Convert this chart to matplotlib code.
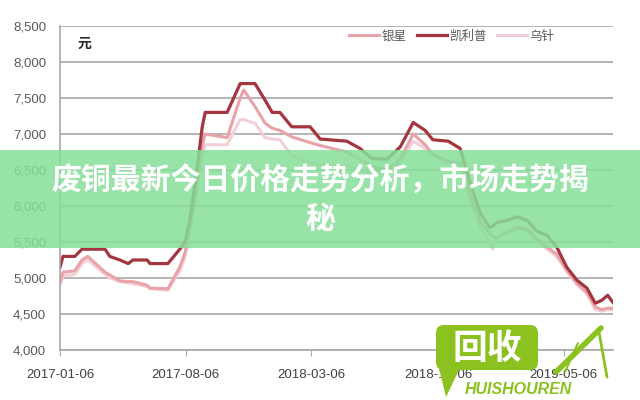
import matplotlib
matplotlib.use('Agg')
import matplotlib.pyplot as plt
import pandas as pd
from matplotlib.patches import Rectangle, FancyBboxPatch, Polygon
from matplotlib.ticker import FuncFormatter

plt.rcParams['font.family'] = ['Liberation Sans', 'Noto Sans CJK SC', 'DejaVu Sans']

# weekly-ish price points (元)
dates = [
    '2017-01-06', '2017-01-11', '2017-01-31', '2017-02-12', '2017-02-22', '2017-03-23',
    '2017-03-31', '2017-04-17', '2017-05-01', '2017-05-09', '2017-06-02', '2017-06-07',
    '2017-07-07', '2017-07-27', '2017-08-05', '2017-08-13', '2017-08-25', '2017-09-03',
    '2017-09-08', '2017-10-15', '2017-11-06', '2017-11-12', '2017-12-01', '2017-12-18',
    '2017-12-30', '2018-01-12', '2018-02-01', '2018-03-04', '2018-03-21', '2018-05-05',
    '2018-05-27', '2018-06-16', '2018-07-12', '2018-08-03', '2018-08-25', '2018-09-14',
    '2018-09-27', '2018-10-23', '2018-11-12', '2018-11-29', '2018-12-16', '2019-01-01',
    '2019-01-06', '2019-01-13', '2019-01-30', '2019-02-16', '2019-03-05', '2019-03-22',
    '2019-04-08', '2019-04-24', '2019-05-11', '2019-05-28', '2019-06-14', '2019-06-28',
    '2019-07-09', '2019-07-19', '2019-07-28',
]
kailipu = [
    5150, 5300, 5300, 5400, 5400, 5400, 5300, 5250, 5200, 5250, 5250, 5200,
    5200, 5400, 5500, 5800, 6500, 7100, 7300, 7300, 7700, 7700, 7700, 7470,
    7300, 7300, 7100, 7100, 6930, 6900, 6800, 6660, 6650, 6820, 7160, 7050,
    6920, 6900, 6800, 6320, 5900, 5700, 5720, 5770, 5800, 5850, 5800, 5650,
    5590, 5430, 5150, 4970, 4860, 4650, 4690, 4760, 4660,
]
yinxing = [
    4950, 5080, 5100, 5250, 5300, 5080, 5040, 4960, 4950, 4950, 4900, 4860,
    4850, 5150, 5350, 5700, 6300, 6850, 7000, 6950, 7500, 7610, 7380, 7150,
    7080, 7050, 6960, 6880, 6840, 6750, 6650, 6550, 6500, 6650, 7000, 6850,
    6720, 6620, 6600, 6150, 5780, 5620, 5580, 5560, 5640, 5700, 5680, 5540,
    5430, 5330, 5110, 4930, 4800, 4600, 4560, 4580, 4580,
]
wuzhen = [
    4900, 5030, 5050, 5200, 5250, 5050, 5000, 4950, 4930, 4920, 4880, 4850,
    4830, 5100, 5300, 5650, 6200, 6700, 6850, 6850, 7200, 7200, 7150, 6950,
    6930, 6920, 6700, 6600, 6580, 6550, 6500, 6450, 6450, 6600, 6900, 6800,
    6700, 6600, 6580, 6100, 5700, 5500, 5400, 5560, 5620, 5680, 5660, 5520,
    5400, 5300, 5090, 4910, 4780, 4560, 4540, 4560, 4560,
]
tick_dates = ['2017-01-06', '2017-08-06', '2018-03-06', '2018-10-06', '2019-05-06']
y_ticks = list(range(4000, 8501, 500))

x = pd.to_datetime(dates)

fig = plt.figure(figsize=(6.4, 4), dpi=100)
ax = fig.add_axes([60 / 640, 50 / 400, 553 / 640, 324 / 400])

l3, = ax.plot(x, wuzhen, color='#f2d0d9', lw=2.2, label='乌针')
l1, = ax.plot(x, yinxing, color='#e9a2a8', lw=2.2, label='银星')
l2, = ax.plot(x, kailipu, color='#a3363f', lw=2.3, label='凯利普')

ax.set_xlim(pd.Timestamp('2017-01-06'), pd.Timestamp('2019-07-28'))
ax.set_ylim(4000, 8500)
ax.set_yticks(y_ticks)
ax.yaxis.set_major_formatter(FuncFormatter(lambda v, p: f'{int(v):,}'))
ax.set_xticks(pd.to_datetime(tick_dates))
ax.set_xticklabels(tick_dates)

ax.grid(axis='y', color='#a8a8a8', lw=1.2)
ax.set_axisbelow(True)
for s in ['top', 'right']:
    ax.spines[s].set_visible(False)
ax.spines['left'].set_color('#a8a8a8')
ax.spines['bottom'].set_color('#a8a8a8')
ax.spines['left'].set_linewidth(1.2)
ax.spines['bottom'].set_linewidth(1.2)
ax.tick_params(axis='y', length=0, pad=10, labelsize=9.5, labelcolor='#595959')
ax.tick_params(axis='x', length=4, color='#a8a8a8', pad=10, labelsize=9.5, labelcolor='#404040')

ax.legend([l1, l2, l3], ['银星', '凯利普', '乌针'], loc='center left',
          bbox_to_anchor=(343 / 640, 1 - 36 / 400), bbox_transform=fig.transFigure,
          ncol=3, frameon=False, borderpad=0, handlelength=2.4, handletextpad=0.2,
          columnspacing=0.8, labelcolor='#595959',
          prop={'family': ['Noto Sans CJK SC'], 'size': 9})

# overlay in pixel coordinates: unit label, banner, watermark
ov = fig.add_axes([0, 0, 1, 1], zorder=5)
ov.set_xlim(0, 640)
ov.set_ylim(400, 0)
ov.axis('off')
ov.patch.set_alpha(0)

ov.text(84, 44, '元', ha='center', va='center', fontsize=10, fontweight='bold',
        color='#262626', family=['Noto Sans CJK SC'])

ov.add_patch(Rectangle((0, 150), 640, 98, color='#86df99', alpha=0.85, lw=0))
ov.text(320, 181, '废铜最新今日价格走势分析，市场走势揭', ha='center', va='center',
        fontsize=21.5, fontweight='bold', color='white', family=['Noto Sans CJK SC'])
ov.text(320, 219, '秘', ha='center', va='center',
        fontsize=21.5, fontweight='bold', color='white', family=['Noto Sans CJK SC'])

green = '#8cc21f'
ov.add_patch(FancyBboxPatch((436, 325), 102, 45, boxstyle='round,pad=0,rounding_size=8',
                            color=green, lw=0))
ov.add_patch(Polygon([(437, 360), (460, 368), (446, 397)], closed=True, color=green, lw=0))
ov.text(487, 348, '回收', ha='center', va='center', fontsize=25, fontweight='bold',
        color='white', family=['Noto Sans CJK SC'])
ov.text(518, 389, 'HUISHOUREN', ha='center', va='center', fontsize=11.5,
        fontweight='bold', fontstyle='italic', color=green)
ov.plot([556, 601], [372, 328], color=green, lw=4, solid_capstyle='round')
ov.plot([599, 607], [332, 377], color=green, lw=2, solid_capstyle='round')
ov.plot([565, 578], [372, 343], color=green, lw=1.5, solid_capstyle='round')

fig.savefig('out.png', dpi=100)
